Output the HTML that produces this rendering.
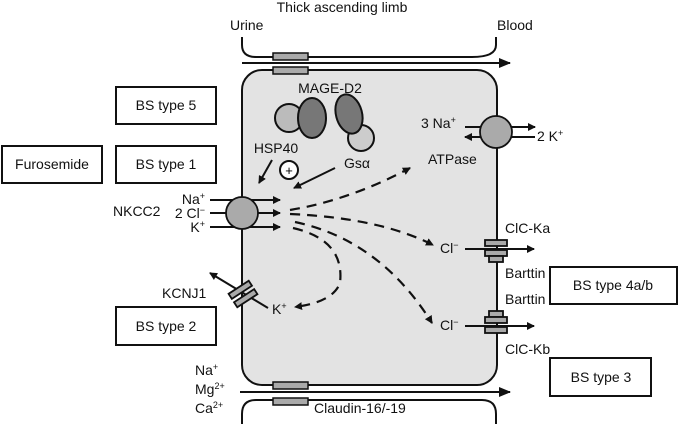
<!DOCTYPE html>
<html><head><style>body{margin:0;background:#fff}svg{display:block;font-family:"Liberation Sans",sans-serif}</style></head><body>
<svg width="685" height="426" viewBox="0 0 685 426" xmlns="http://www.w3.org/2000/svg">
<defs><marker id="a" markerWidth="8" markerHeight="8" refX="7" refY="4" orient="auto" markerUnits="userSpaceOnUse"><path d="M0,0 L8,4 L0,8 z" fill="#111"/></marker>
<marker id="b" markerWidth="12" markerHeight="10" refX="11" refY="5" orient="auto" markerUnits="userSpaceOnUse"><path d="M0,0 L12,5 L0,10 z" fill="#111"/></marker></defs>
<g font-size="14" fill="#111">
<text x="342" y="12" text-anchor="middle">Thick ascending limb</text>
<text x="230" y="30">Urine</text>
<text x="497" y="30">Blood</text>
</g>
<g fill="none" stroke="#111" stroke-width="2">
<path d="M242,37 V45 Q242,57 256,57 H472 Q496,57 496,45 V37"/>
<path d="M242,424 V414 Q242,400 256,400 H482 Q496,400 496,414 V424"/>
</g>
<rect x="242" y="70" width="255" height="315" rx="20" fill="#e3e3e3" stroke="#111" stroke-width="2"/>
<line x1="242" y1="63" x2="510" y2="63" stroke="#111" stroke-width="2" marker-end="url(#b)"/>
<line x1="240" y1="392" x2="510" y2="392" stroke="#111" stroke-width="2" marker-end="url(#b)"/>
<g fill="#aaa" stroke="#111" stroke-width="1.5">
<rect x="273" y="53" width="35" height="7"/><rect x="273" y="67" width="35" height="7"/>
<rect x="273" y="382" width="35" height="7"/><rect x="273" y="398" width="35" height="7"/>
</g>
<g font-size="14" fill="#111">
<text x="330" y="93" text-anchor="middle">MAGE-D2</text>
<text x="276" y="153" text-anchor="middle">HSP40</text>
<text x="344" y="168">Gsα</text>
<text x="421" y="128">3 Na<tspan font-size="9" dy="-5">+</tspan></text>
<text x="537" y="141">2 K<tspan font-size="9" dy="-5">+</tspan></text>
<text x="428" y="164">ATPase</text>
<text x="205" y="204" text-anchor="end">Na<tspan font-size="9" dy="-5">+</tspan></text>
<text x="205" y="218" text-anchor="end">2 Cl<tspan font-size="9" dy="-5">−</tspan></text>
<text x="205" y="232" text-anchor="end">K<tspan font-size="9" dy="-5">+</tspan></text>
<text x="113" y="216">NKCC2</text>
<text x="162" y="298">KCNJ1</text>
<text x="272" y="314">K<tspan font-size="9" dy="-5">+</tspan></text>
<text x="440" y="253">Cl<tspan font-size="9" dy="-5">−</tspan></text>
<text x="440" y="330">Cl<tspan font-size="9" dy="-5">−</tspan></text>
<text x="505" y="233">ClC-Ka</text>
<text x="505" y="278">Barttin</text>
<text x="505" y="304">Barttin</text>
<text x="505" y="354">ClC-Kb</text>
<text x="195" y="375">Na<tspan font-size="9" dy="-5">+</tspan></text>
<text x="195" y="394">Mg<tspan font-size="9" dy="-5">2+</tspan></text>
<text x="195" y="413">Ca<tspan font-size="9" dy="-5">2+</tspan></text>
<text x="314" y="413">Claudin-16/-19</text>
</g>
<g fill="#fff" stroke="#111" stroke-width="2">
<rect x="116" y="87" width="100" height="37"/><rect x="116" y="146" width="100" height="37"/>
<rect x="2" y="146" width="100" height="37"/><rect x="116" y="307" width="100" height="38"/>
<rect x="550" y="267" width="127" height="37"/><rect x="550" y="358" width="101" height="38"/>
</g>
<g font-size="14" fill="#111" text-anchor="middle">
<text x="166" y="110">BS type 5</text><text x="166" y="169">BS type 1</text>
<text x="52" y="169">Furosemide</text><text x="166" y="331">BS type 2</text>
<text x="613" y="290">BS type 4a/b</text><text x="601" y="382">BS type 3</text>
</g>
<g stroke="#111" stroke-width="2">
<circle cx="289" cy="118" r="14" fill="#bbb"/>
<ellipse cx="312" cy="118" rx="14" ry="20" fill="#777"/>
<circle cx="361" cy="138" r="13" fill="#ccc"/>
<ellipse cx="349" cy="114" rx="13" ry="20" transform="rotate(-15 349 114)" fill="#777"/>
</g>
<circle cx="289" cy="170" r="9" fill="#fff" stroke="#111" stroke-width="2"/>
<text x="289" y="175" font-size="13" text-anchor="middle" font-family="Liberation Sans">+</text>
<g stroke="#111" stroke-width="2" fill="none">
<line x1="272" y1="160" x2="259" y2="183" marker-end="url(#a)"/>
<line x1="335" y1="168" x2="294" y2="188" marker-end="url(#a)"/>
<line x1="210" y1="200" x2="280" y2="200" marker-end="url(#a)"/>
<line x1="210" y1="213" x2="280" y2="213" marker-end="url(#a)"/>
<line x1="210" y1="227" x2="280" y2="227" marker-end="url(#a)"/>
<line x1="465" y1="127" x2="535" y2="127" marker-end="url(#a)"/>
<line x1="535" y1="137" x2="465" y2="137" marker-end="url(#a)"/>
<g stroke-dasharray="10,7" stroke-width="2.2">
<path d="M290,210 Q350,200 410,168" marker-end="url(#a)"/>
<path d="M290,214 Q380,218 433,245" marker-end="url(#a)"/>
<path d="M295,222 Q380,240 432,323" marker-end="url(#a)"/>
<path d="M293,228 Q345,240 340,283 Q333,302 295,307" marker-end="url(#a)"/>
</g>
<line x1="268" y1="308" x2="210" y2="273" marker-end="url(#a)"/>
<line x1="465" y1="249" x2="534" y2="249" marker-end="url(#a)"/>
<line x1="465" y1="326" x2="534" y2="326" marker-end="url(#a)"/>
</g>
<g stroke="#111" stroke-width="1.8">
<circle cx="242" cy="213" r="16" fill="#aaa"/>
<circle cx="496" cy="132" r="16" fill="#aaa"/>
<g fill="#aaa">
<rect x="485" y="240" width="22" height="6"/><rect x="485" y="250" width="22" height="6"/><rect x="489" y="256" width="14" height="6"/>
<rect x="489" y="311" width="14" height="6"/><rect x="485" y="317" width="22" height="6"/><rect x="485" y="327" width="22" height="6"/>
<g transform="rotate(-33 243 294)"><rect x="231" y="286" width="24" height="6"/><rect x="231" y="296" width="24" height="6"/></g>
</g>
</g>
</svg>
</body></html>
